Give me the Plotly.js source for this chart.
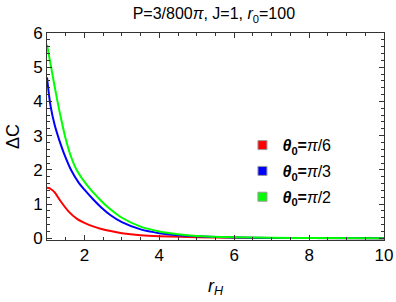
<!DOCTYPE html>
<html>
<head>
<meta charset="utf-8">
<script src="https://cdn.plot.ly/plotly-3.0.1.min.js"></script>
<style>html,body{margin:0;padding:0;background:#fff;}#chart{width:396px;height:302px;}</style>
</head>
<body>
<div id="chart"></div>
<script>
// Data
var xRed   = [1.0, 1.05, 1.1, 1.2, 1.36, 1.58, 1.81, 2.0, 2.25, 2.43, 2.7, 3.0, 3.5, 4.0, 5.0, 6.0, 7.0, 8.0, 10.0];
var yRed   = [1.48, 1.47, 1.44, 1.35, 1.09, 0.78, 0.56, 0.45, 0.34, 0.28, 0.21, 0.15, 0.09, 0.06, 0.03, 0.015, 0.008, 0.005, 0.002];

var xBlue  = [1.0, 1.05, 1.1, 1.2, 1.33, 1.45, 1.65, 1.85, 2.0, 2.23, 2.45, 2.69, 3.0, 3.5, 4.0, 4.5, 5.0, 6.0, 7.0, 8.0, 10.0];
var yBlue  = [4.70, 4.22, 3.84, 3.33, 2.86, 2.49, 1.98, 1.62, 1.42, 1.14, 0.90, 0.68, 0.47, 0.26, 0.15, 0.09, 0.06, 0.025, 0.012, 0.006, 0.002];

var xGreen = [1.0, 1.15, 1.25, 1.38, 1.5, 1.63, 1.8, 2.1, 2.47, 2.7, 3.0, 3.5, 4.0, 4.5, 5.0, 6.0, 7.0, 8.0, 10.0];
var yGreen = [5.66, 4.76, 4.17, 3.47, 2.90, 2.42, 1.98, 1.51, 1.07, 0.84, 0.60, 0.34, 0.20, 0.12, 0.07, 0.03, 0.015, 0.008, 0.003];

var seriesNames  = ['<b><i>θ</i><sub>0</sub>=</b><i>π</i>/6', '<b><i>θ</i><sub>0</sub>=</b><i>π</i>/3', '<b><i>θ</i><sub>0</sub>=</b><i>π</i>/2'];
var seriesColors = ['#ff0000', '#0000ff', '#00ff00'];
var xTickVals = [2, 4, 6, 8, 10];
var yTickVals = [0, 1, 2, 3, 4, 5, 6];

var xs = [xRed, xBlue, xGreen];
var ys = [yRed, yBlue, yGreen];
var traces = [];
for (var i = 0; i < 3; i++) {
  traces.push({x: xs[i], y: ys[i], mode: 'lines', type: 'scatter',
    line: {color: seriesColors[i], width: 2, shape: 'spline', smoothing: 0.8},
    showlegend: false, hoverinfo: 'skip'});
}
for (var j = 0; j < 3; j++) {
  traces.push({x: [null], y: [null], mode: 'markers', type: 'scatter', name: seriesNames[j],
    legendgroup: 'g' + j,
    marker: {symbol: 'square', size: 9, color: seriesColors[j], line: {color: '#999', width: 1}},
    showlegend: true});
}

var axisCommon = {
  showline: true, linecolor: '#333', linewidth: 1, mirror: 'allticks',
  ticks: 'inside', ticklen: 5, tickwidth: 1, tickcolor: '#333',
  showgrid: false, zeroline: false,
  tickfont: {family: 'Liberation Sans, Arial, sans-serif', size: 17, color: '#000'}
};

var layout = {
  width: 396, height: 302,
  margin: {l: 47, r: 12, t: 33, b: 62},
  paper_bgcolor: '#fff', plot_bgcolor: '#fff',
  font: {family: 'Liberation Sans, Arial, sans-serif', color: '#000'},
  title: {text: 'P=3/800<i>π</i>, J=1, <i>r</i><sub>0</sub>=100', x: 0.54, xanchor: 'center', y: 0.955, yanchor: 'middle',
          font: {size: 16, color: '#000'}},
  xaxis: Object.assign({}, axisCommon, {
    range: [1, 10], tickvals: xTickVals, ticktext: xTickVals.map(String),
    minor: {dtick: 0.5, tick0: 0, ticks: 'inside', ticklen: 3, tickcolor: '#333'},
    title: {text: '<i>r</i><sub><i>H</i></sub>', font: {size: 18, color: '#000'}, standoff: 14}
  }),
  yaxis: Object.assign({}, axisCommon, {
    range: [-0.05, 6], tickvals: yTickVals, ticktext: yTickVals.map(String),
    minor: {dtick: 0.2, tick0: 0, ticks: 'inside', ticklen: 3, tickcolor: '#333'},
    title: {text: 'ΔC', font: {size: 18, color: '#000'}, standoff: 8}
  }),
  legend: {x: 0.58, y: 0.54, xanchor: 'left', yanchor: 'top', bgcolor: 'rgba(0,0,0,0)',
           font: {size: 16, color: '#000'}, itemwidth: 30, tracegroupgap: 2}
};

Plotly.newPlot('chart', traces, layout, {staticPlot: true, displayModeBar: false});
</script>
</body>
</html>
